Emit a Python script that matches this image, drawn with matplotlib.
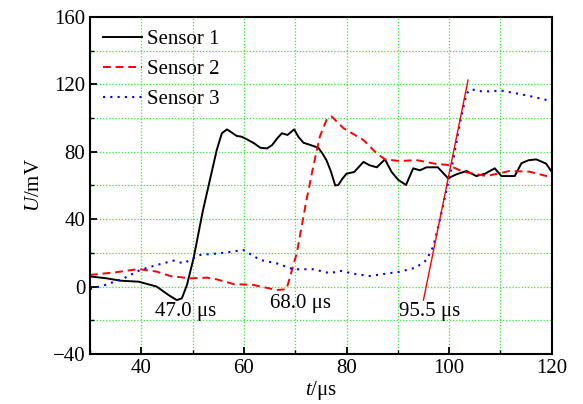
"""Three-sensor voltage traces with arrival-time markers."""
import numpy as np
import matplotlib
matplotlib.use("Agg")
import matplotlib.pyplot as plt
from matplotlib.ticker import MultipleLocator

plt.rcParams["font.family"] = ["Liberation Serif", "DejaVu Serif"]
plt.rcParams["mathtext.fontset"] = "custom"
plt.rcParams["mathtext.rm"] = "Liberation Serif"
plt.rcParams["mathtext.it"] = "Liberation Serif:italic"
plt.rcParams["font.size"] = 15

# sensor 1 (black solid)
t1 = [30, 33, 36, 39.5, 43, 45.3, 46.9, 47.9, 48.9, 50.2, 52.0, 53.8, 54.7, 55.7, 56.7,
      57.6, 58.6, 59.5, 60.6, 62.0, 63.2, 64.5, 65.5, 66.5, 67.4, 68.5, 69.8, 70.6, 71.6,
      73.0, 74.5, 75.3, 76.1, 77.0, 77.8, 78.4, 79.2, 80.0, 81.5, 83.3, 84.5, 85.9, 87.5,
      88.8, 90.1, 91.6, 93.0, 94.3, 95.6, 97.8, 99.8, 101.4, 103.4, 105.3, 107.0, 108.9,
      110.2, 112.8, 114.1, 115.5, 117.0, 118.9, 120]
u1 = [6, 5, 3.5, 2.9, 0, -5, -8, -7, 1, 17, 45, 69, 81, 91, 93.3,
      91.5, 89.4, 89, 87.4, 85, 82.4, 82, 84, 88, 91, 90, 93.3, 89, 85.4,
      84, 82.4, 79, 75, 68, 60, 60.3, 64, 67, 68, 74, 72, 70.8, 75.5,
      68, 63.3, 60.3, 70.2, 69, 70.8, 70.8, 64.3, 66.6, 68.6, 65.6, 67, 70.2,
      65.6, 65.6, 73.2, 75, 75.5, 73, 68.2]

# sensor 2 (red dashed)
t2 = [30, 35, 39.5, 43, 45.6, 49.5, 52.8, 54.7, 58, 61.8, 66.4, 68.3, 70.3, 72.2, 73.5,
      74.8, 76.1, 77.1, 79.4, 83.3, 85.9, 87.5, 90.4, 93.6, 97.5, 99.8, 102.7, 107.3,
      111.8, 115.7, 120]
u2 = [6.9, 8.5, 10.4, 8.9, 6.3, 4.9, 5.3, 4.3, 1.5, 1, -2, -1.6, 19.8, 51.4, 71,
      89, 98.9, 101, 94, 87, 79, 75.5, 74.5, 75.1, 72.8, 72.2, 68.2, 65.6,
      68.6, 68.2, 64.8]

# sensor 3 (blue dotted)
t3 = [30, 33, 36.6, 39.8, 43, 46.3, 48.2, 51.5, 55.4, 59.9, 63.2, 66.4, 69.6, 73.5, 76.8,
      78.7, 82, 84.6, 90.4, 93.6, 95.6, 96.9, 98.2, 99.5, 100.8, 102.1, 103.4, 104.3,
      106.6, 110.2, 113.1, 116.3, 119.6, 120]
u3 = [-1.5, 1, 4.9, 9.9, 12.8, 15.4, 13.8, 18.8, 19.8, 21.7, 15.8, 13.8, 10.3, 10.3, 7.9,
      9.4, 7.3, 6.3, 8.8, 11.4, 15.8, 23.7, 39.5, 57.3, 75, 96.9, 114.7, 117.1,
      115.7, 116.3, 114.7, 112.7, 110.3, 110]

# tangent for sensor 3 onset
tan_t = [95.0, 103.7]
tan_u = [-8.0, 122.6]

labels = ["47.0 μs", "68.0 μs", "95.5 μs"]
label_pos = [(48.6, -15), (71.0, -10), (96.2, -15)]

fig = plt.figure(figsize=(5.83, 4.04), dpi=100)
ax = fig.add_axes([0.1544, 0.1238, 0.7919, 0.8341])

ax.plot(t1, u1, color="black", lw=1.4, label="Sensor 1")
ax.plot(t2, u2, color="red", lw=1.4, ls=(0, (4, 2.5)), label="Sensor 2")
ax.plot(t3, u3, color="blue", lw=1.5, ls=(0, (1, 2.5)), label="Sensor 3")
ax.plot(tan_t, tan_u, color="red", lw=1.0)

for s, (x, y) in zip(labels, label_pos):
    ax.text(x, y, s, ha="center", va="center", fontsize=15)

ax.set_xlim(30, 120)
ax.set_ylim(-40, 160)
ax.xaxis.set_major_locator(MultipleLocator(20))
ax.xaxis.set_minor_locator(MultipleLocator(10))
ax.yaxis.set_major_locator(MultipleLocator(40))
ax.yaxis.set_minor_locator(MultipleLocator(20))
ax.tick_params(which="major", direction="in", length=5, width=1.3)
ax.tick_params(which="minor", direction="in", length=3, width=1.0)
ax.grid(which="both", color="#33ee33", ls=(0, (1, 1.5)), lw=0.9)
ax.set_axisbelow(True)
for sp in ax.spines.values():
    sp.set_linewidth(1.5)

ax.set_xlabel(r"$t$/μs", labelpad=1)
ax.set_ylabel(r"$U$/mV", labelpad=6)
ax.legend(loc="upper left", frameon=False, handlelength=1.9, handletextpad=0.25,
          labelspacing=0.5, borderaxespad=0.2, borderpad=0.4, fontsize=15)

fig.savefig("out.png", dpi=100)
